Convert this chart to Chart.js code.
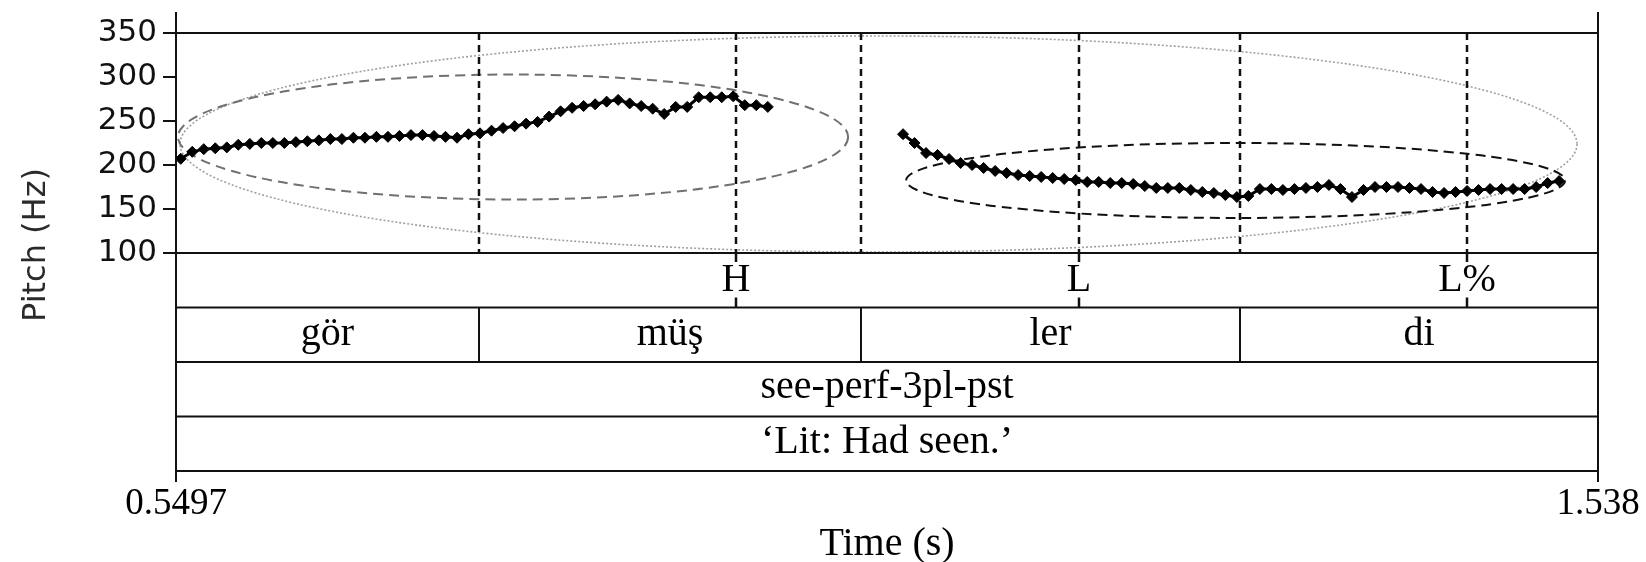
<!DOCTYPE html>
<html>
<head>
<meta charset="utf-8">
<script src="https://cdn.jsdelivr.net/npm/chart.js@4.4.1/dist/chart.umd.min.js"></script>
<style>
  html, body { margin: 0; padding: 0; background: #fff; }
  #wrap { width: 1646px; height: 562px; }
</style>
</head>
<body>
<div id="wrap"><canvas id="myChart"></canvas></div>
<script>
// axis ticks
const yTicks = [100, 150, 200, 250, 300, 350];
const xTickValues = [0.5497, 1.538];
const xTickLabels = ['0.5497', '1.538'];

// pitch track, first part (gör müş)
const times1 = [0.553, 0.561, 0.569, 0.577, 0.585, 0.593, 0.601, 0.609, 0.617, 0.625,
  0.633, 0.641, 0.649, 0.657, 0.665, 0.673, 0.681, 0.689, 0.697, 0.705,
  0.713, 0.721, 0.729, 0.737, 0.745, 0.753, 0.761, 0.769, 0.777, 0.785,
  0.793, 0.801, 0.809, 0.817, 0.825, 0.833, 0.841, 0.849, 0.857, 0.865,
  0.873, 0.881, 0.889, 0.897, 0.905, 0.913, 0.921, 0.929, 0.937, 0.945,
  0.953, 0.961];
const pitch1 = [207, 215, 218, 219, 220, 223, 224, 225, 225, 225,
  226, 227, 228, 229.5, 229.5, 231, 231, 232, 232, 233,
  234, 234, 233, 232, 231, 235, 236, 239, 242, 244,
  247, 249, 255, 261, 265, 267, 269, 272, 274, 270,
  267, 264, 258, 266, 266, 277, 277, 277, 278, 268,
  268, 266];

// pitch track, second part (ler di)
const times2 = [1.055, 1.063, 1.071, 1.079, 1.087, 1.095, 1.103, 1.111, 1.119, 1.127,
  1.135, 1.143, 1.151, 1.159, 1.167, 1.175, 1.183, 1.191, 1.199, 1.207,
  1.215, 1.223, 1.231, 1.239, 1.247, 1.255, 1.263, 1.271, 1.279, 1.287,
  1.295, 1.303, 1.311, 1.319, 1.327, 1.335, 1.343, 1.351, 1.359, 1.367,
  1.375, 1.383, 1.391, 1.399, 1.407, 1.415, 1.423, 1.431, 1.439, 1.447,
  1.455, 1.463, 1.471, 1.479, 1.487, 1.495, 1.503, 1.511];
const pitch2 = [235, 225, 213.6, 211.4, 206.8, 202.3, 200, 196.6, 193.2, 190.9,
  188.6, 187.5, 186.4, 185.2, 184.1, 183, 180.7, 180.7, 179.5, 179.5,
  178.4, 176.1, 173.9, 173.9, 173.9, 171.6, 169.3, 168.2, 165.9, 163.6,
  164.8, 172.7, 172.7, 171.6, 172.7, 173.9, 175, 177.3, 172.7, 163.6,
  171.6, 175, 175, 175, 173.9, 172.7, 169.3, 168.2, 169.3, 170.5,
  171.6, 172.7, 172.7, 172.7, 172.7, 175, 179.5, 181.8];

// text grid
const wordBounds = [0.5497, 0.7603, 1.0258, 1.2892, 1.538];
const words = ['gör', 'müş', 'ler', 'di'];
const toneTimes = [0.9389, 1.1773, 1.4470];
const toneLabels = ['H', 'L', 'L%'];
const gloss = 'see-perf-3pl-pst';
const translation = '‘Lit: Had seen.’';

// ellipses: [t start, t end, Hz low, Hz high]
const ellipseBoxes = [
  [0.5525, 1.5234, 101.1, 346.6],
  [0.5511, 1.0168, 160.8, 302.8],
  [1.0571, 1.5151, 139.8, 225.0]
];
const ellipseStyles = [
  { color: '#a0a0a0', width: 1.6, dash: [2, 2] },
  { color: '#707070', width: 2, dash: [10, 6] },
  { color: '#111111', width: 2, dash: [10, 6] }
];

const serif = '"Liberation Serif", "Times New Roman", serif';
const sans = '"DejaVu Sans", Verdana, sans-serif';

const textGrid = {
  id: 'textGrid',
  beforeDatasetsDraw(chart) {
    const { ctx, scales: { x, y } } = chart;
    ctx.save();
    // ellipses
    ellipseBoxes.forEach((b, i) => {
      const st = ellipseStyles[i];
      const x0 = x.getPixelForValue(b[0]), x1 = x.getPixelForValue(b[1]);
      const y0 = y.getPixelForValue(b[3]), y1 = y.getPixelForValue(b[2]);
      ctx.beginPath();
      ctx.ellipse((x0 + x1) / 2, (y0 + y1) / 2, (x1 - x0) / 2, (y1 - y0) / 2, 0, 0, Math.PI * 2);
      ctx.strokeStyle = st.color;
      ctx.lineWidth = st.width;
      ctx.setLineDash(st.dash);
      ctx.stroke();
    });
    // dashed lines for boundaries and tones
    const top = y.getPixelForValue(350), bottom = y.getPixelForValue(100);
    ctx.strokeStyle = '#111';
    ctx.lineWidth = 2.5;
    ctx.setLineDash([7, 5]);
    wordBounds.slice(1, -1).concat(toneTimes).forEach(t => {
      const px = Math.round(x.getPixelForValue(t));
      ctx.beginPath();
      ctx.moveTo(px, top);
      ctx.lineTo(px, bottom);
      ctx.stroke();
    });
    ctx.restore();
  },
  afterDraw(chart) {
    const { ctx, scales: { x, y } } = chart;
    const left = x.getPixelForValue(xTickValues[0]);
    const right = x.getPixelForValue(xTickValues[1]);
    const top = y.getPixelForValue(350);
    const base = y.getPixelForValue(100);
    const tierH = 54.5;
    ctx.save();
    ctx.strokeStyle = '#111';
    ctx.lineWidth = 2;
    ctx.setLineDash([]);
    // outer frame
    ctx.beginPath();
    ctx.moveTo(left, 12); ctx.lineTo(left, 482);
    ctx.moveTo(right, 12); ctx.lineTo(right, 482);
    ctx.moveTo(left, top); ctx.lineTo(right, top);
    for (let i = 0; i <= 4; i++) {
      ctx.moveTo(left, base + i * tierH);
      ctx.lineTo(right, base + i * tierH);
    }
    // word boundaries
    wordBounds.slice(1, -1).forEach(t => {
      const px = Math.round(x.getPixelForValue(t));
      ctx.moveTo(px, base + tierH);
      ctx.lineTo(px, base + 2 * tierH);
    });
    ctx.stroke();
    // tone ticks
    ctx.lineWidth = 2.5;
    ctx.beginPath();
    toneTimes.forEach(t => {
      const px = Math.round(x.getPixelForValue(t));
      ctx.moveTo(px, base); ctx.lineTo(px, base + 9);
      ctx.moveTo(px, base + tierH - 10); ctx.lineTo(px, base + tierH);
    });
    ctx.stroke();

    // tier texts
    ctx.fillStyle = '#000';
    ctx.font = '40px ' + serif;
    ctx.textAlign = 'center';
    ctx.textBaseline = 'alphabetic';
    toneTimes.forEach((t, i) => {
      ctx.fillText(toneLabels[i], x.getPixelForValue(t), base + 38);
    });
    words.forEach((w, i) => {
      const cx = (x.getPixelForValue(wordBounds[i]) + x.getPixelForValue(wordBounds[i + 1])) / 2;
      ctx.fillText(w, cx, base + tierH + 37);
    });
    ctx.fillText(gloss, (left + right) / 2, base + 2 * tierH + 36);
    ctx.fillText(translation, (left + right) / 2, base + 3 * tierH + 36);

    // y axis title
    ctx.translate(37, 245);
    ctx.rotate(-Math.PI / 2);
    ctx.font = '32px ' + sans;
    ctx.textBaseline = 'middle';
    ctx.fillStyle = '#2a2a2a';
    ctx.fillText('Pitch (Hz)', 0, 0);
    ctx.restore();
  }
};

const trackStyle = {
  borderColor: '#000',
  backgroundColor: '#000',
  borderWidth: 3,
  pointStyle: 'rectRot',
  pointRadius: 5.5,
  pointBorderWidth: 1,
  tension: 0,
  fill: false
};

const ctx = document.getElementById('myChart').getContext('2d');
const myChart = new Chart(ctx, {
  type: 'line',
  data: {
    datasets: [
      Object.assign({ label: 'F0 a', data: times1.map((t, i) => ({ x: t, y: pitch1[i] })) }, trackStyle),
      Object.assign({ label: 'F0 b', data: times2.map((t, i) => ({ x: t, y: pitch2[i] })) }, trackStyle)
    ]
  },
  options: {
    responsive: true,
    maintainAspectRatio: false,
    animation: false,
    devicePixelRatio: 1,
    layout: { padding: { left: 0, right: 48, top: 33, bottom: 0 } },
    plugins: { legend: { display: false }, tooltip: { enabled: false } },
    scales: {
      x: {
        type: 'linear',
        min: xTickValues[0],
        max: xTickValues[1],
        // long invisible tick marks push the labels below the text tiers
        grid: { display: false, drawTicks: true, tickLength: 229 },
        border: { display: false },
        afterBuildTicks: s => { s.ticks = xTickValues.map(v => ({ value: v })); },
        afterFit: s => { s.height = 309; },
        ticks: {
          autoSkip: false,
          maxRotation: 0,
          padding: 0,
          color: '#000',
          font: { family: serif, size: 37 },
          callback: (v, i) => xTickLabels[i]
        },
        title: {
          display: true,
          text: 'Time (s)',
          color: '#000',
          font: { family: serif, size: 40, lineHeight: 0.9 },
          padding: { top: 0, bottom: 0 }
        }
      },
      y: {
        type: 'linear',
        min: 100,
        max: 350,
        afterBuildTicks: s => { s.ticks = yTicks.map(v => ({ value: v })); },
        afterFit: s => { s.width = 176; },
        grid: { display: true, drawOnChartArea: false, drawTicks: true, tickLength: 13, color: '#111', lineWidth: 2 },
        border: { display: false },
        ticks: {
          padding: 6,
          color: '#111',
          font: { family: sans, size: 31 }
        }
      }
    }
  },
  plugins: [textGrid]
});
</script>
</body>
</html>
